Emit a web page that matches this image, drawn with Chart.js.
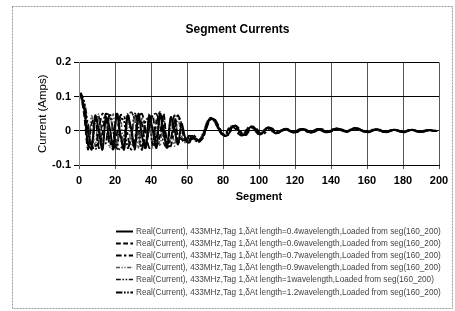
<!DOCTYPE html>
<html>
<head>
<meta charset="utf-8">
<script src="https://cdn.jsdelivr.net/npm/chart.js@4"></script>
<style>
html, body { margin: 0; padding: 0; background: #fff; }
</style>
</head>
<body>
<canvas id="chart" width="455" height="311"></canvas>
<script>
// segment numbers (every 2nd segment)
const segments = [1, 3, 5, 7, 9, 11, 13, 15, 17, 19, 21, 23, 25, 27, 29, 31, 33, 35, 37, 39,
  41, 43, 45, 47, 49, 51, 53, 55, 57, 59, 61, 63, 65, 67, 69, 71, 73, 75, 77, 79,
  81, 83, 85, 87, 89, 91, 93, 95, 97, 99, 101, 103, 105, 107, 109, 111, 113, 115, 117, 119,
  121, 123, 125, 127, 129, 131, 133, 135, 137, 139, 141, 143, 145, 147, 149, 151, 153, 155, 157, 159,
  161, 163, 165, 167, 169, 171, 173, 175, 177, 179, 181, 183, 185, 187, 189, 191, 193, 195, 197, 199];

const seriesLabels = [
  'Real(Current), 433MHz,Tag 1,δAt length=0.4wavelength,Loaded from seg(160_200)',
  'Real(Current), 433MHz,Tag 1,δAt length=0.6wavelength,Loaded from seg(160_200)',
  'Real(Current), 433MHz,Tag 1,δAt length=0.7wavelength,Loaded from seg(160_200)',
  'Real(Current), 433MHz,Tag 1,δAt length=0.9wavelength,Loaded from seg(160_200)',
  'Real(Current), 433MHz,Tag 1,δAt length=1wavelength,Loaded from seg(160_200)',
  'Real(Current), 433MHz,Tag 1,δAt length=1.2wavelength,Loaded from seg(160_200)'
];

const current04 = [0.108, 0.065, -0.04, -0.05, 0.045, 0.0, -0.055, 0.04, 0.01, -0.05, 0.05, -0.01, -0.055, 0.045, 0.005, -0.05, 0.05, -0.015, -0.05, 0.045, 0.0, -0.05, 0.05, -0.01, -0.045, 0.04, 0.005, -0.04,
  0.02, -0.02, -0.035, -0.02, -0.025, -0.03, -0.015, 0.015, 0.035, 0.033, 0.015, -0.005,
  -0.015, -0.01, 0.01, 0.015, 0.0, -0.012, -0.008, 0.01, 0.012, -0.005, -0.01, 0.0, 0.01, 0.006, -0.006,
  -0.006, 0.002, 0.006, 0.001, -0.005, -0.003, 0.004, 0.005, -0.002, -0.005, 0.001, 0.005, 0.002, -0.004, -0.003, 0.003, 0.006, 0.004, 0.0, -0.003,
  0.002, 0.008, 0.006, 0.002, -0.002, -0.004, 0.0, 0.004, 0.003, -0.002, -0.004, -0.001, 0.003, 0.002, -0.003, -0.004, 0.0, 0.003, 0.001, -0.002,
  -0.003, 0.0, 0.002, 0.001, -0.001];
const current06 = [0.11, 0.04, -0.055, 0.02, 0.04, -0.05, -0.01, 0.05, -0.04, -0.03, 0.055, -0.02, -0.045, 0.045, 0.0, -0.055, 0.035, 0.02, -0.05, 0.01, 0.045, -0.045, -0.015, 0.05, -0.035, -0.025, 0.045, -0.015,
  -0.025, -0.035, -0.02, -0.015, -0.028, -0.032, -0.01, 0.02, 0.038, 0.03, 0.01, -0.008,
  -0.012, 0.005, 0.014, 0.005, -0.01, -0.013, 0.002, 0.012, 0.008, -0.007, -0.01, 0.003, 0.009, 0.002, -0.007,
  -0.004, 0.003, 0.005, -0.001, -0.005, 0.0, 0.005, 0.003, -0.003, -0.004, 0.002, 0.005, 0.0, -0.004, -0.002, 0.004, 0.007, 0.003, -0.002, -0.002,
  0.004, 0.007, 0.004, 0.0, -0.003, -0.002, 0.002, 0.004, 0.001, -0.003, -0.003, 0.001, 0.003, 0.0, -0.003, -0.002, 0.002, 0.002, -0.001, -0.003,
  -0.001, 0.002, 0.001, -0.001, 0.0];
const current07 = [0.105, 0.075, 0.0, -0.045, -0.05, 0.0, 0.05, 0.035, -0.025, -0.055, -0.01, 0.045, 0.045, -0.01, -0.055, -0.025, 0.04, 0.05, 0.0, -0.05, -0.04, 0.02, 0.055, 0.02, -0.04, -0.045, 0.01, 0.045,
  0.01, -0.03, -0.03, -0.01, -0.02, -0.03, -0.02, 0.01, 0.032, 0.036, 0.02, 0.0,
  -0.014, -0.012, 0.006, 0.015, 0.006, -0.01, -0.012, 0.004, 0.012, 0.004, -0.008, -0.008, 0.004, 0.008, 0.0,
  -0.005, 0.0, 0.005, 0.003, -0.003, -0.005, 0.002, 0.006, 0.001, -0.004, -0.003, 0.003, 0.005, 0.0, -0.004, 0.0, 0.005, 0.006, 0.002, -0.002,
  0.001, 0.006, 0.007, 0.002, -0.002, -0.003, 0.001, 0.004, 0.002, -0.002, -0.004, 0.0, 0.003, 0.001, -0.002, -0.003, 0.001, 0.003, 0.0, -0.002,
  -0.002, 0.001, 0.002, 0.0, -0.001];
const current09 = [0.1, 0.05, -0.05, 0.045, -0.045, 0.05, -0.055, 0.04, -0.05, 0.05, -0.045, 0.04, -0.055, 0.05, -0.04, 0.045, -0.05, 0.04, -0.045, 0.05, -0.05, 0.035, -0.045, 0.045, -0.04, 0.04, -0.045, 0.035,
  -0.015, -0.035, -0.025, -0.02, -0.03, -0.028, -0.005, 0.025, 0.037, 0.028, 0.008, -0.01,
  -0.01, 0.008, 0.014, 0.002, -0.012, -0.01, 0.006, 0.013, 0.004, -0.009, -0.008, 0.005, 0.008, -0.002, -0.006,
  -0.002, 0.004, 0.004, -0.002, -0.005, 0.001, 0.006, 0.002, -0.004, -0.003, 0.003, 0.005, -0.001, -0.004, 0.0, 0.005, 0.006, 0.001, -0.002, 0.0,
  0.005, 0.008, 0.003, -0.001, -0.003, 0.0, 0.004, 0.003, -0.001, -0.004, -0.002, 0.002, 0.003, -0.001, -0.003, -0.001, 0.002, 0.002, -0.002, -0.003,
  0.0, 0.002, 0.0, -0.001, 0.001];
const current10 = [0.112, 0.085, 0.02, -0.04, -0.055, -0.03, 0.02, 0.05, 0.045, 0.0, -0.045, -0.055, -0.015, 0.035, 0.055, 0.03, -0.02, -0.055, -0.045, 0.0, 0.045, 0.05, 0.015, -0.035, -0.05, -0.025, 0.025, 0.045,
  0.02, -0.02, -0.035, -0.025, -0.022, -0.03, -0.018, 0.012, 0.034, 0.034, 0.016, -0.004,
  -0.015, -0.008, 0.01, 0.014, 0.0, -0.013, -0.006, 0.009, 0.011, -0.002, -0.01, -0.002, 0.008, 0.005, -0.004,
  -0.005, 0.001, 0.006, 0.002, -0.004, -0.004, 0.003, 0.006, 0.0, -0.005, -0.002, 0.004, 0.004, -0.002, -0.004, 0.001, 0.006, 0.005, 0.0, -0.003,
  0.003, 0.007, 0.005, 0.001, -0.003, -0.003, 0.001, 0.004, 0.002, -0.003, -0.003, 0.0, 0.003, 0.001, -0.002, -0.003, 0.0, 0.003, 0.001, -0.002,
  -0.002, 0.001, 0.002, 0.0, -0.001];
const current12 = [0.108, 0.06, 0.0, -0.055, 0.03, 0.04, -0.04, -0.035, 0.05, 0.0, -0.055, 0.035, 0.03, -0.05, -0.02, 0.05, 0.01, -0.055, 0.03, 0.035, -0.045, -0.025, 0.05, 0.005, -0.05, 0.03, 0.03, -0.035,
  -0.02, -0.03, -0.015, -0.018, -0.03, -0.026, -0.008, 0.022, 0.036, 0.03, 0.012, -0.006,
  -0.013, 0.0, 0.013, 0.01, -0.006, -0.013, -0.002, 0.011, 0.009, -0.005, -0.01, 0.0, 0.008, 0.004, -0.005,
  -0.003, 0.003, 0.005, 0.0, -0.004, -0.002, 0.004, 0.004, -0.002, -0.004, 0.0, 0.005, 0.003, -0.003, -0.003, 0.003, 0.007, 0.004, -0.001, -0.002,
  0.003, 0.007, 0.005, 0.0, -0.003, -0.002, 0.002, 0.004, 0.001, -0.003, -0.003, 0.001, 0.003, 0.0, -0.003, -0.002, 0.001, 0.003, 0.0, -0.002,
  -0.002, 0.001, 0.002, 0.0, 0.0];

const allSeries = [current04, current06, current07, current09, current10, current12];

// line look per series (solid, dashes, dash-dot-dot ...)
const lineStyles = [
  { color: '#000', width: 2, dash: [] },
  { color: '#000', width: 1.8, dash: [6, 3] },
  { color: '#000', width: 1.8, dash: [7, 3, 3, 3] },
  { color: '#555', width: 1.5, dash: [5, 2, 1.5, 2, 1.5, 2] },
  { color: '#111', width: 1.6, dash: [6, 2, 2, 2, 2, 2] },
  { color: '#000', width: 2, dash: [8, 2, 2, 2, 2, 2] }
];

const FONT = '"Liberation Sans", Arial, sans-serif';

// dashed frame round the whole chart
const framePlugin = {
  id: 'frame',
  beforeDraw: (chart) => {
    const { ctx } = chart;
    ctx.save();
    ctx.fillStyle = '#fff';
    ctx.fillRect(0, 0, chart.width, chart.height);
    ctx.strokeStyle = '#999';
    ctx.lineWidth = 1;
    ctx.setLineDash([2, 1]);
    ctx.strokeRect(12.5, 6.5, 440, 302);
    ctx.restore();
  }
};

// legend in one column under the axis title
const columnLegend = {
  id: 'columnLegend',
  afterDraw: (chart) => {
    const { ctx } = chart;
    ctx.save();
    ctx.font = '8.2px ' + FONT;
    ctx.textBaseline = 'middle';
    chart.data.datasets.forEach((ds, i) => {
      const y = Math.round(231 + i * 12.1) + 0.5;
      ctx.strokeStyle = ds.borderColor;
      ctx.lineWidth = ds.borderWidth;
      ctx.setLineDash(ds.borderDash.map(d => d * 0.8));
      ctx.beginPath();
      ctx.moveTo(116, y);
      ctx.lineTo(133, y);
      ctx.stroke();
      ctx.setLineDash([]);
      ctx.fillStyle = '#444';
      ctx.fillText(ds.label, 136, y);
    });
    ctx.restore();
  }
};

const datasets = allSeries.map((vals, i) => ({
  label: seriesLabels[i],
  data: segments.map((s, k) => ({ x: s, y: vals[k] })),
  borderColor: lineStyles[i].color,
  borderWidth: lineStyles[i].width,
  borderDash: lineStyles[i].dash,
  pointRadius: 0,
  tension: 0.3,
  fill: false
}));

new Chart(document.getElementById('chart').getContext('2d'), {
  type: 'line',
  data: { datasets },
  options: {
    responsive: false,
    animation: false,
    layout: { padding: { left: 36, right: 16, top: 0, bottom: 106 } },
    plugins: {
      legend: { display: false },
      tooltip: { enabled: false },
      title: {
        display: true,
        text: 'Segment Currents',
        color: '#000',
        font: { family: FONT, size: 12, weight: 'bold' },
        padding: { top: 22, bottom: 26 }
      }
    },
    scales: {
      x: {
        type: 'linear',
        min: 0,
        max: 200,
        ticks: {
          stepSize: 20,
          color: '#000',
          padding: 5,
          maxRotation: 0,
          font: { family: FONT, size: 11, weight: 'bold' }
        },
        grid: { color: '#555', tickLength: 4 },
        border: { color: '#000' },
        title: {
          display: true,
          text: 'Segment',
          color: '#000',
          font: { family: FONT, size: 11, weight: 'bold' },
          padding: { top: 0, bottom: 1 }
        },
        afterFit: (scale) => { scale.height = 40; }
      },
      y: {
        min: -0.1,
        max: 0.2,
        ticks: {
          stepSize: 0.1,
          color: '#000',
          padding: 3,
          font: { family: FONT, size: 11, weight: 'bold' },
          callback: (v) => String(Math.round(v * 10) / 10)
        },
        grid: { color: '#000', tickLength: 5 },
        border: { color: '#888' },
        title: {
          display: true,
          text: 'Current (Amps)',
          color: '#000',
          font: { family: FONT, size: 11.5 },
          padding: { top: 0, bottom: 0 }
        },
        afterFit: (scale) => { scale.width = 43; }
      }
    }
  },
  plugins: [framePlugin, columnLegend]
});
</script>
</body>
</html>
